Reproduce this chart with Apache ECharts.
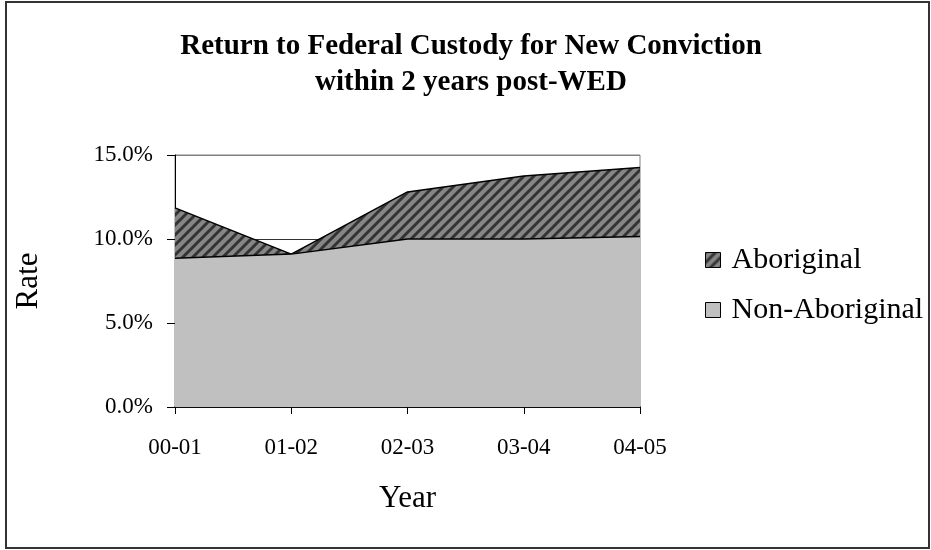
<!DOCTYPE html>
<html>
<head>
<meta charset="utf-8">
<script src="https://cdn.jsdelivr.net/npm/echarts@6/dist/echarts.min.js"></script>
<style>
  html, body { margin: 0; padding: 0; background: #fff; }
  #main { width: 931px; height: 550px; }
</style>
</head>
<body>
<div id="main"></div>
<script>
// data
var years = ['00-01', '01-02', '02-03', '03-04', '04-05'];
var aboriginal = [11.85, 9.1, 12.8, 13.75, 14.25];
var nonAboriginal = [8.85, 9.1, 10.0, 10.0, 10.15];
var rateTicks = [0, 5, 10, 15];

// diagonal hatch for the Aboriginal area
function hatch() {
    var c = document.createElement('canvas')
    c.width = 10
    c.height = 10
    var ctx = c.getContext('2d')
    ctx.fillStyle = '#868686'
    ctx.fillRect(0, 0, 10, 10)
    ctx.strokeStyle = '#333333'
    ctx.lineWidth = 3
    ctx.beginPath()
    ctx.moveTo(-5, 5); ctx.lineTo(5, -5)
    ctx.moveTo(0, 10); ctx.lineTo(10, 0)
    ctx.moveTo(5, 15); ctx.lineTo(15, 5)
    ctx.stroke()
    return { image: c, repeat: 'repeat' }
}

var serif = '"Liberation Serif", "DejaVu Serif", serif'
var myChart = echarts.init(document.getElementById('main'))
var option = {
    animation: false,
    textStyle: { fontFamily: serif, color: '#000' },
    title: {
        text: 'Return to Federal Custody for New Conviction\nwithin 2 years post-WED',
        left: 466,
        top: 24,
        textAlign: 'center',
        textStyle: { fontFamily: serif, fontSize: 29, fontWeight: 'bold', color: '#000', lineHeight: 36 }
    },
    graphic: [{
        type: 'rect',
        shape: { x: 6, y: 2, width: 923, height: 546 },
        style: { fill: 'none', stroke: '#333', lineWidth: 2 },
        silent: true
    }],
    legend: {
        orient: 'vertical',
        left: 700,
        top: 240,
        itemWidth: 15,
        itemHeight: 15,
        itemGap: 20,
        textStyle: { fontFamily: serif, fontSize: 30, color: '#000', padding: [0, 0, 0, 6] },
        data: [
            { name: 'Aboriginal', icon: 'rect', itemStyle: { color: hatch(), borderColor: '#000', borderWidth: 1 } },
            { name: 'Non-Aboriginal', icon: 'rect', itemStyle: { color: '#c0c0c0', borderColor: '#000', borderWidth: 1 } }
        ]
    },
    grid: {
        left: 175,
        right: 291,
        top: 155,
        bottom: 143,
        show: true,
        borderColor: '#808080',
        borderWidth: 1
    },
    xAxis: {
        type: 'category',
        data: years,
        boundaryGap: false,
        name: 'Year',
        nameLocation: 'middle',
        nameGap: 76,
        nameTextStyle: { fontFamily: serif, fontSize: 31, color: '#000' },
        axisLine: { lineStyle: { color: '#000', width: 1.5 } },
        axisTick: { alignWithLabel: true, length: 7, lineStyle: { color: '#000' } },
        axisLabel: { fontFamily: serif, fontSize: 23, color: '#000', margin: 29 },
        splitLine: { show: false }
    },
    yAxis: {
        type: 'value',
        min: rateTicks[0],
        max: rateTicks[rateTicks.length - 1],
        interval: 5,
        name: 'Rate',
        nameLocation: 'middle',
        nameGap: 131,
        nameTextStyle: { fontFamily: serif, fontSize: 31, color: '#000' },
        axisLine: { show: true, lineStyle: { color: '#000', width: 1 } },
        axisTick: { show: true, length: 8, lineStyle: { color: '#000' } },
        axisLabel: {
            fontFamily: serif, fontSize: 23, color: '#000', margin: 22,
            formatter: function (v) { return v.toFixed(1) + '%' }
        },
        splitLine: { show: true, lineStyle: { color: ['#333', '#333', '#333', '#808080'], width: 1 } }
    },
    series: [
        {
            name: 'Aboriginal',
            type: 'line',
            data: aboriginal,
            showSymbol: false,
            lineStyle: { color: '#000', width: 1.5 },
            itemStyle: { color: '#000' },
            areaStyle: { color: hatch(), opacity: 1 },
            z: 2
        },
        {
            name: 'Non-Aboriginal',
            type: 'line',
            data: nonAboriginal,
            showSymbol: false,
            lineStyle: { color: '#000', width: 1.5 },
            itemStyle: { color: '#000' },
            areaStyle: { color: '#c0c0c0', opacity: 1 },
            z: 3
        }
    ]
}
myChart.setOption(option)
</script>
</body>
</html>
